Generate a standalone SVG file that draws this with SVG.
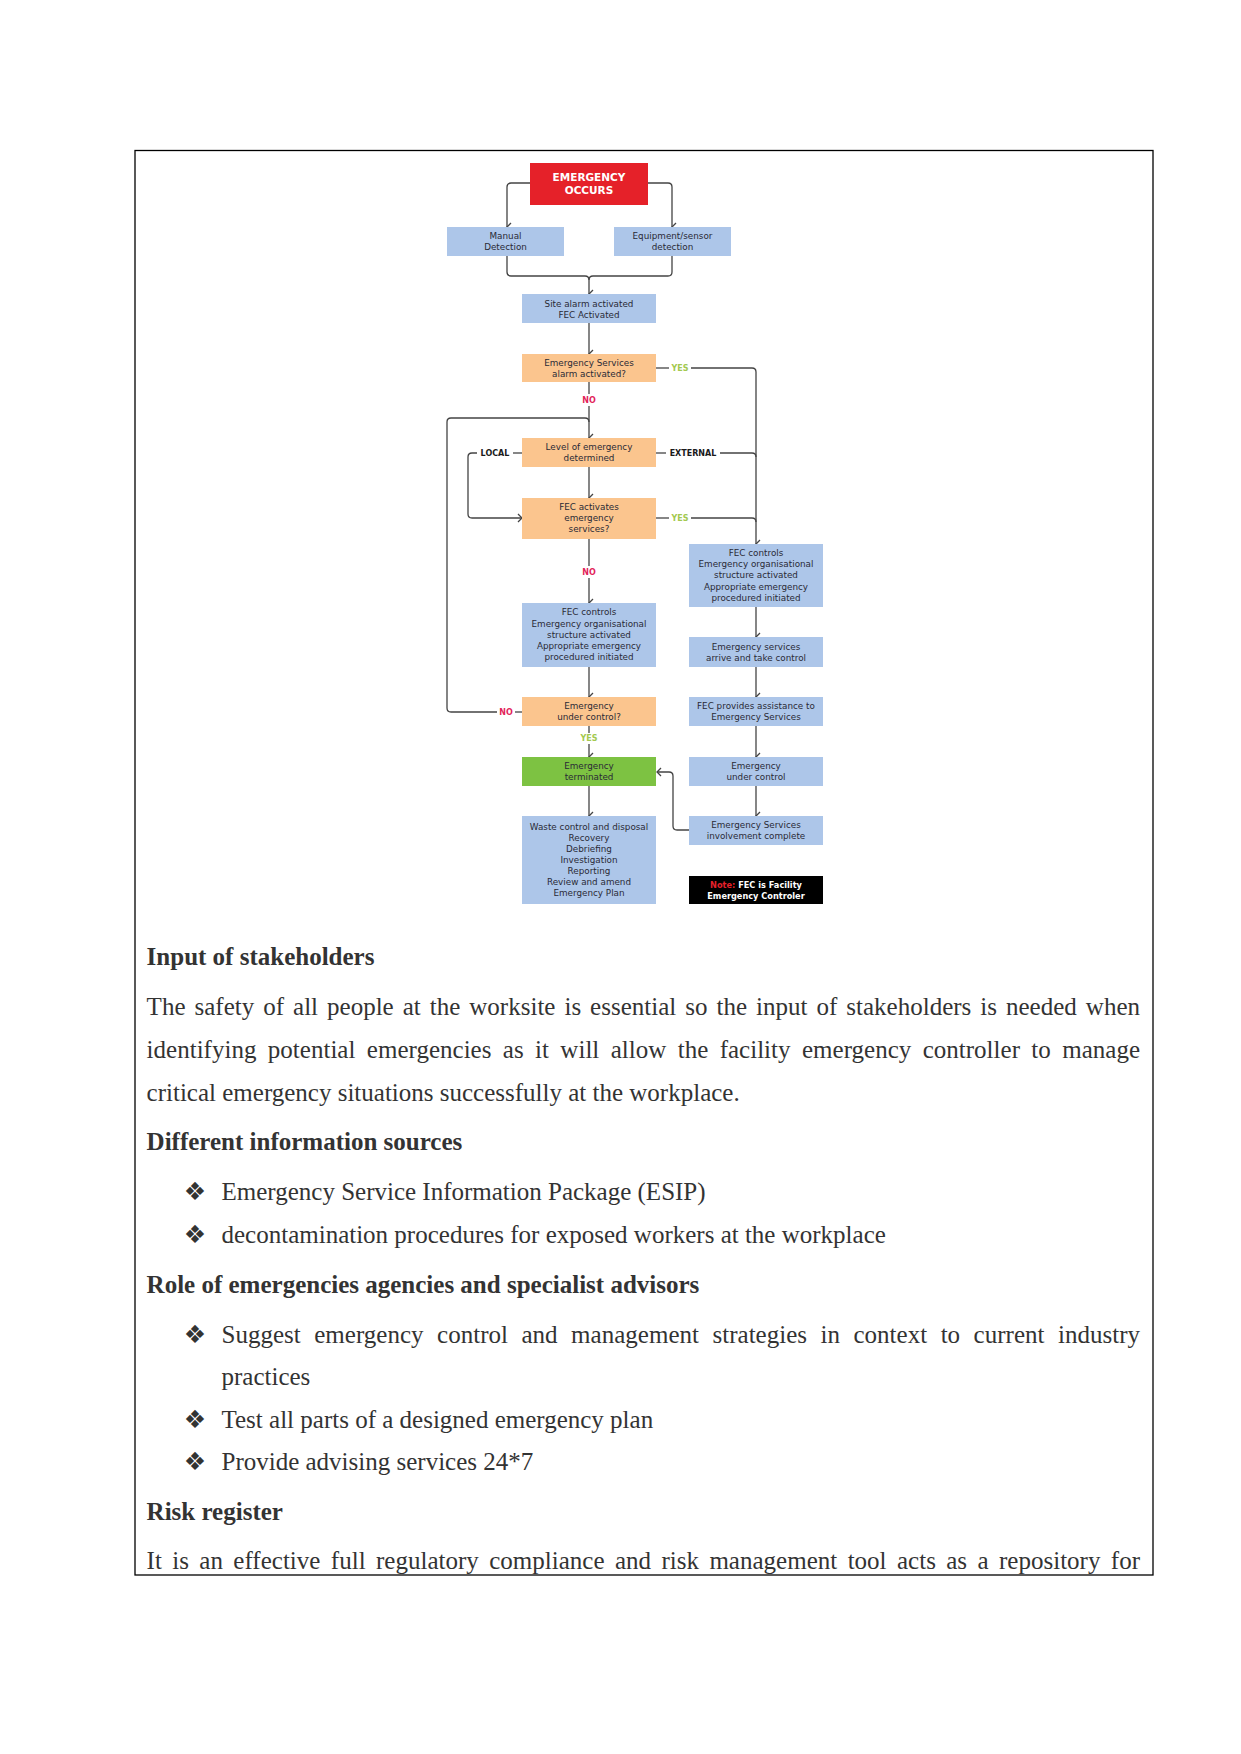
<svg xmlns="http://www.w3.org/2000/svg" width="1241" height="1754" viewBox="0 0 1241 1754">
<defs>
<style>
.bt{font-family:"DejaVu Sans",sans-serif;font-size:8.8px;fill:#2a2a36;text-anchor:middle}
.blue{fill:#adc6e9}
.orange{fill:#fbc58e}
.yes{font-family:"DejaVu Sans",sans-serif;font-size:8px;fill:#a3c94f;font-weight:bold;text-anchor:middle}
.no{font-family:"DejaVu Sans",sans-serif;font-size:8px;fill:#e2245a;font-weight:bold;text-anchor:middle}
.lbl{font-family:"DejaVu Sans",sans-serif;font-size:8px;fill:#1a1a1a;font-weight:bold;text-anchor:middle}
.c{fill:none;stroke:#444;stroke-width:1.3}
.body{font-family:"Liberation Serif","Times New Roman",serif;font-size:25px;fill:#333}
.h{font-family:"Liberation Serif","Times New Roman",serif;font-size:25px;fill:#333;font-weight:bold}
.bul{font-family:"DejaVu Sans",sans-serif;font-size:25px;fill:#333;text-anchor:middle}
</style>
<marker id="ar" viewBox="0 0 10 10" refX="5" refY="9" markerWidth="10" markerHeight="10" markerUnits="userSpaceOnUse" orient="auto-start-reverse">
<polyline points="1,5 5,9 9,5" fill="none" stroke="#444" stroke-width="1.3"/>
</marker>
<marker id="al" viewBox="0 0 10 10" refX="1" refY="5" markerWidth="10" markerHeight="10" markerUnits="userSpaceOnUse" orient="0">
<polyline points="5,1 1,5 5,9" fill="none" stroke="#444" stroke-width="1.3"/>
</marker>
<marker id="arr" viewBox="0 0 10 10" refX="9" refY="5" markerWidth="10" markerHeight="10" markerUnits="userSpaceOnUse" orient="0">
<polyline points="5,1 9,5 5,9" fill="none" stroke="#444" stroke-width="1.3"/>
</marker>
</defs>
<rect x="0" y="0" width="1241" height="1754" fill="#fff"/>
<rect x="135" y="150.5" width="1018" height="1424.5" fill="none" stroke="#000" stroke-width="1.3"/>

<g id="connectors">
<path class="c" d="M530,183 H511 Q507,183 507,187 V227" marker-end="url(#ar)"/>
<path class="c" d="M648,183 H668 Q672,183 672,187 V227" marker-end="url(#ar)"/>
<path class="c" d="M507,256 V272 Q507,276 511,276 H585 Q589,276 589,280 V294" marker-end="url(#ar)"/>
<path class="c" d="M672,256 V272 Q672,276 668,276 H593 Q589,276 589,280"/>
<path class="c" d="M589,323 V354" marker-end="url(#ar)"/>
<path class="c" d="M656,368 H669"/>
<path class="c" d="M691,368 H752 Q756,368 756,372 V544" marker-end="url(#ar)"/>
<path class="c" d="M589,382 V394"/>
<path class="c" d="M589,406 V438" marker-end="url(#ar)"/>
<path class="c" d="M497,712 H451 Q447,712 447,708 V422 Q447,418 451,418 H585 Q589,418 589,422"/>
<path class="c" d="M522,453 H513"/>
<path class="c" d="M477,453 H472 Q468,453 468,457 V514 Q468,518 472,518 H522" marker-end="url(#arr)"/>
<path class="c" d="M656,453 H666"/>
<path class="c" d="M720,453 H752 Q756,453 756,457"/>
<path class="c" d="M589,467 V498" marker-end="url(#ar)"/>
<path class="c" d="M656,518 H669"/>
<path class="c" d="M691,518 H752 Q756,518 756,522"/>
<path class="c" d="M589,539 V566"/>
<path class="c" d="M589,578 V603" marker-end="url(#ar)"/>
<path class="c" d="M589,667 V697" marker-end="url(#ar)"/>
<path class="c" d="M522,712 H515"/>
<path class="c" d="M589,726 V733"/>
<path class="c" d="M589,744 V757" marker-end="url(#ar)"/>
<path class="c" d="M589,786 V816" marker-end="url(#ar)"/>
<path class="c" d="M756,607 V637" marker-end="url(#ar)"/>
<path class="c" d="M756,667 V697" marker-end="url(#ar)"/>
<path class="c" d="M756,726 V757" marker-end="url(#ar)"/>
<path class="c" d="M756,786 V816" marker-end="url(#ar)"/>
<path class="c" d="M689,830 H677 Q673,830 673,826 V776 Q673,772 669,772 H657" marker-end="url(#al)"/>
<text class="yes" x="680" y="371">YES</text>
<text class="no" x="589" y="403">NO</text>
<text class="lbl" x="495" y="456">LOCAL</text>
<text class="lbl" x="693" y="456">EXTERNAL</text>
<text class="yes" x="680" y="521">YES</text>
<text class="no" x="589" y="575">NO</text>
<text class="no" x="506" y="715">NO</text>
<text class="yes" x="589" y="741">YES</text>
</g>

<g id="emergency-occurs">
<rect x="530" y="163" width="118" height="42" fill="#e52129"/>
<text x="589" y="181" font-family="DejaVu Sans,sans-serif" font-size="10.5" font-weight="bold" fill="#fff" text-anchor="middle">EMERGENCY</text>
<text x="589" y="194" font-family="DejaVu Sans,sans-serif" font-size="10.5" font-weight="bold" fill="#fff" text-anchor="middle">OCCURS</text>
</g>
<g id="manual-detection">
<rect class="blue" x="447" y="227" width="117" height="29"/>
<text class="bt" x="505.5" y="239">Manual</text>
<text class="bt" x="505.5" y="250">Detection</text>
</g>
<g id="equipment-detection">
<rect class="blue" x="614" y="227" width="117" height="29"/>
<text class="bt" x="672.5" y="239">Equipment/sensor</text>
<text class="bt" x="672.5" y="250">detection</text>
</g>
<g id="site-alarm">
<rect class="blue" x="522" y="294" width="134" height="29"/>
<text class="bt" x="589" y="307">Site alarm activated</text>
<text class="bt" x="589" y="318">FEC Activated</text>
</g>
<g id="es-alarm">
<rect class="orange" x="522" y="354" width="134" height="28"/>
<text class="bt" x="589" y="366">Emergency Services</text>
<text class="bt" x="589" y="377">alarm activated?</text>
</g>
<g id="level">
<rect class="orange" x="522" y="438" width="134" height="29"/>
<text class="bt" x="589" y="450">Level of emergency</text>
<text class="bt" x="589" y="461">determined</text>
</g>
<g id="fec-activates">
<rect class="orange" x="522" y="498" width="134" height="41"/>
<text class="bt" x="589" y="510">FEC activates</text>
<text class="bt" x="589" y="521">emergency</text>
<text class="bt" x="589" y="532">services?</text>
</g>
<g id="fec-controls-right">
<rect class="blue" x="689" y="544" width="134" height="63"/>
<text class="bt" x="756" y="556">FEC controls</text>
<text class="bt" x="756" y="567">Emergency organisational</text>
<text class="bt" x="756" y="578">structure activated</text>
<text class="bt" x="756" y="590">Appropriate emergency</text>
<text class="bt" x="756" y="601">procedured initiated</text>
</g>
<g id="fec-controls-left">
<rect class="blue" x="522" y="603" width="134" height="64"/>
<text class="bt" x="589" y="615">FEC controls</text>
<text class="bt" x="589" y="627">Emergency organisational</text>
<text class="bt" x="589" y="638">structure activated</text>
<text class="bt" x="589" y="649">Appropriate emergency</text>
<text class="bt" x="589" y="660">procedured initiated</text>
</g>
<g id="es-arrive">
<rect class="blue" x="689" y="637" width="134" height="30"/>
<text class="bt" x="756" y="650">Emergency services</text>
<text class="bt" x="756" y="661">arrive and take control</text>
</g>
<g id="fec-provides">
<rect class="blue" x="689" y="697" width="134" height="29"/>
<text class="bt" x="756" y="709">FEC provides assistance to</text>
<text class="bt" x="756" y="720">Emergency Services</text>
</g>
<g id="under-control-q">
<rect class="orange" x="522" y="697" width="134" height="29"/>
<text class="bt" x="589" y="709">Emergency</text>
<text class="bt" x="589" y="720">under control?</text>
</g>
<g id="terminated">
<rect x="522" y="757" width="134" height="29" fill="#7dc242"/>
<text class="bt" x="589" y="769">Emergency</text>
<text class="bt" x="589" y="780">terminated</text>
</g>
<g id="under-control-right">
<rect class="blue" x="689" y="757" width="134" height="29"/>
<text class="bt" x="756" y="769">Emergency</text>
<text class="bt" x="756" y="780">under control</text>
</g>
<g id="waste">
<rect class="blue" x="522" y="816" width="134" height="88"/>
<text class="bt" x="589" y="830">Waste control and disposal</text>
<text class="bt" x="589" y="841">Recovery</text>
<text class="bt" x="589" y="852">Debriefing</text>
<text class="bt" x="589" y="863">Investigation</text>
<text class="bt" x="589" y="874">Reporting</text>
<text class="bt" x="589" y="885">Review and amend</text>
<text class="bt" x="589" y="896">Emergency Plan</text>
</g>
<g id="es-complete">
<rect class="blue" x="689" y="816" width="134" height="29"/>
<text class="bt" x="756" y="828">Emergency Services</text>
<text class="bt" x="756" y="839">involvement complete</text>
</g>
<g id="note">
<rect x="689" y="876" width="134" height="28" fill="#000"/>
<text x="756" y="888" font-family="DejaVu Sans,sans-serif" font-size="8.2" font-weight="bold" fill="#fff" text-anchor="middle"><tspan fill="#e5212b">Note:</tspan> FEC is Facility</text>
<text x="756" y="899" font-family="DejaVu Sans,sans-serif" font-size="8.2" font-weight="bold" fill="#fff" text-anchor="middle">Emergency Controler</text>
</g>

<g id="text">
<text class="h" x="146.6" y="965">Input of stakeholders</text>
<text class="body" x="146.6" y="1015" word-spacing="2.7" textLength="993.4" lengthAdjust="spacing">The safety of all people at the worksite is essential so the input of stakeholders is needed when</text>
<text class="body" x="146.6" y="1058" word-spacing="5.1" textLength="993.4" lengthAdjust="spacing">identifying potential emergencies as it will allow the facility emergency controller to manage</text>
<text class="body" x="146.6" y="1101">critical emergency situations successfully at the workplace.</text>
<text class="h" x="146.6" y="1150">Different information sources</text>
<text class="bul" x="195" y="1200">❖</text>
<text class="body" x="221.5" y="1200">Emergency Service Information Package (ESIP)</text>
<text class="bul" x="195" y="1243">❖</text>
<text class="body" x="221.5" y="1243">decontamination procedures for exposed workers at the workplace</text>
<text class="h" x="146.6" y="1293">Role of emergencies agencies and specialist advisors</text>
<text class="bul" x="195" y="1343">❖</text>
<text class="body" x="221.5" y="1343" word-spacing="7.2" textLength="918.5" lengthAdjust="spacing">Suggest emergency control and management strategies in context to current industry</text>
<text class="body" x="221.5" y="1385">practices</text>
<text class="bul" x="195" y="1428">❖</text>
<text class="body" x="221.5" y="1428">Test all parts of a designed emergency plan</text>
<text class="bul" x="195" y="1470">❖</text>
<text class="body" x="221.5" y="1470">Provide advising services 24*7</text>
<text class="h" x="146.6" y="1520">Risk register</text>
<text class="body" x="146.6" y="1569" word-spacing="4.1" textLength="993.4" lengthAdjust="spacing">It is an effective full regulatory compliance and risk management tool acts as a repository for</text>
</g>
</svg>
